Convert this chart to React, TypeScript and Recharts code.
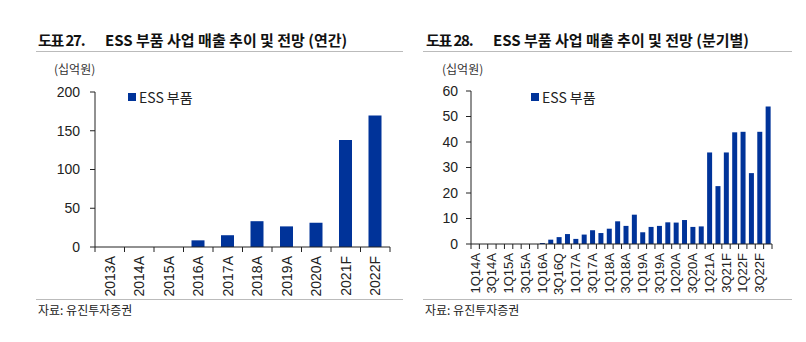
import React from 'react';
import { BarChart, Bar, XAxis, YAxis, Legend } from 'recharts';

const annualLabels = ['2013A', '2014A', '2015A', '2016A', '2017A', '2018A', '2019A', '2020A', '2021F', '2022F'];
const annualValues = [0, 0, 0, 8.6, 15.2, 33.3, 26.6, 31.3, 138.2, 169.8];
const annualTicks = [0, 50, 100, 150, 200];

const quarterLabels = [
  '1Q14A', '2Q14A', '3Q14A', '4Q14A', '1Q15A', '2Q15A', '3Q15A', '4Q15A',
  '1Q16A', '2Q16A', '3Q16Q', '4Q16A', '1Q17A', '2Q17A', '3Q17A', '4Q17A',
  '1Q18A', '2Q18A', '3Q18A', '4Q18A', '1Q19A', '2Q19A', '3Q19A', '4Q19A',
  '1Q20A', '2Q20A', '3Q20A', '4Q20A', '1Q21A', '2Q21F', '3Q21F', '4Q21F',
  '1Q22F', '2Q22F', '3Q22F', '4Q22F',
];
const quarterValues = [
  0, 0, 0, 0, 0, 0, 0, 0,
  0.4, 1.7, 2.7, 3.9, 2.0, 3.7, 5.4, 4.3,
  6.0, 8.9, 7.1, 11.5, 4.6, 6.7, 7.1, 8.5,
  8.4, 9.4, 6.7, 6.9, 35.9, 22.7, 35.9, 43.8,
  44.0, 27.8, 44.0, 53.9,
];
const quarterTicks = [0, 10, 20, 30, 40, 50, 60];

const SERIES = 'ESS 부품';
const NAVY = '#003399';
const LATIN = '"Liberation Sans", Arial, "Noto Sans CJK KR", sans-serif';
const KOREAN = '"Noto Sans CJK KR", "Noto Sans", sans-serif';

const annualData = annualLabels.map((name, i) => ({ name, [SERIES]: annualValues[i] }));
const quarterData = quarterLabels.map((name, i) => ({ name, [SERIES]: quarterValues[i] }));

// draws the boundary tick marks (excel style) and the rotated label
const CategoryTick = (props: any) => {
  const { x, y, payload, index, fontSize, step, every, count } = props;
  const half = step / 2;
  return (
    <g>
      <line x1={x - half} x2={x - half} y1={y} y2={y + 5} stroke="#222" />
      {index === count - 1 && <line x1={x + half} x2={x + half} y1={y} y2={y + 5} stroke="#222" />}
      {index % every === 0 && (
        <text
          x={x}
          y={y + 9}
          transform={`rotate(-90, ${x}, ${y + 9})`}
          textAnchor="end"
          dy="0.35em"
          fontSize={fontSize}
          fontFamily={LATIN}
          fill="#222"
        >
          {payload.value}
        </text>
      )}
    </g>
  );
};

const LegendBox = () => (
  <div style={{ display: 'flex', alignItems: 'center', fontFamily: KOREAN, fontSize: 14, color: '#222' }}>
    <span style={{ display: 'inline-block', width: 8, height: 8, background: NAVY, marginRight: 3 }} />
    <span>{SERIES}</span>
  </div>
);

interface PanelProps {
  data: any[];
  count: number;
  ticks: number[];
  domainMax: number;
  left: number;
  margin: { top: number; right: number; bottom: number; left: number };
  barSize: number;
  tickMargin: number;
  labelSize: number;
  every: number;
  legendLeft: number;
  legendTop: number;
}

const W = 403;
const Y_W = 40;

const Panel: React.FC<PanelProps> = (p) => {
  const plotWidth = W - p.margin.left - p.margin.right - Y_W;
  const step = plotWidth / p.count;
  return (
    <div style={{ position: 'absolute', left: p.left, top: 0 }}>
      <BarChart width={W} height={310} data={p.data} margin={p.margin}>
        <XAxis
          dataKey="name"
          interval={0}
          tickLine={false}
          tickSize={0}
          tickMargin={0}
          axisLine={{ stroke: '#222' }}
          height={55}
          tick={<CategoryTick fontSize={p.labelSize} step={step} every={p.every} count={p.count} />}
        />
        <YAxis
          width={Y_W}
          domain={[0, p.domainMax]}
          ticks={p.ticks}
          tickSize={5}
          tickMargin={p.tickMargin}
          tickLine={{ stroke: '#222' }}
          axisLine={{ stroke: '#222' }}
          tick={{ fontSize: 14, fill: '#222', fontFamily: LATIN }}
        />
        <Legend
          layout="horizontal"
          verticalAlign="middle"
          align="center"
          content={<LegendBox />}
          wrapperStyle={{ position: 'absolute', left: p.legendLeft, top: p.legendTop, width: 'auto' }}
        />
        <Bar dataKey={SERIES} fill={NAVY} barSize={p.barSize} isAnimationActive={false} />
      </BarChart>
    </div>
  );
};

const Header = ({ left, lineLeft, lineWidth, num, title }: any) => (
  <>
    <div style={{ position: 'absolute', left, top: 29, fontFamily: KOREAN, fontWeight: 700, fontSize: 15, color: '#111', whiteSpace: 'nowrap' }}>
      <span style={{ letterSpacing: -1.2 }}>{num}</span>
      <span style={{ position: 'absolute', left: 67 }}>{title}</span>
    </div>
    <div style={{ position: 'absolute', left: lineLeft, top: 51, width: lineWidth, height: 1, background: '#bbb' }} />
    <div style={{ position: 'absolute', left: left + 16, top: 60, fontFamily: KOREAN, fontSize: 12, color: '#333' }}>(십억원)</div>
  </>
);

const Footer = ({ left, lineLeft, lineWidth }: any) => (
  <>
    <div style={{ position: 'absolute', left: lineLeft, top: 299, width: lineWidth, height: 1, background: '#bbb' }} />
    <div style={{ position: 'absolute', left, top: 301, fontFamily: KOREAN, fontSize: 12, color: '#222' }}>자료: 유진투자증권</div>
  </>
);

export default function App() {
  return (
    <div style={{ position: 'absolute', left: 0, top: 0, width: 806, height: 342, background: '#fff', overflow: 'hidden' }}>
      <Header left={38} lineLeft={36} lineWidth={367} num="도표 27." title="ESS 부품 사업 매출 추이 및 전망 (연간)" />
      <Header left={426} lineLeft={423} lineWidth={369} num="도표 28." title="ESS 부품 사업 매출 추이 및 전망 (분기별)" />
      <Panel
        data={annualData}
        count={annualLabels.length}
        ticks={annualTicks}
        domainMax={200}
        left={0}
        margin={{ top: 92, right: 13, bottom: 8, left: 55 }}
        barSize={13}
        tickMargin={10}
        labelSize={14}
        every={1}
        legendLeft={128}
        legendTop={87}
      />
      <Panel
        data={quarterData}
        count={quarterLabels.length}
        ticks={quarterTicks}
        domainMax={60}
        left={403}
        margin={{ top: 91, right: 34, bottom: 11, left: 28 }}
        barSize={5}
        tickMargin={8}
        labelSize={13}
        every={2}
        legendLeft={128}
        legendTop={87}
      />
      <Footer left={38} lineLeft={36} lineWidth={367} />
      <Footer left={425} lineLeft={423} lineWidth={369} />
    </div>
  );
}
